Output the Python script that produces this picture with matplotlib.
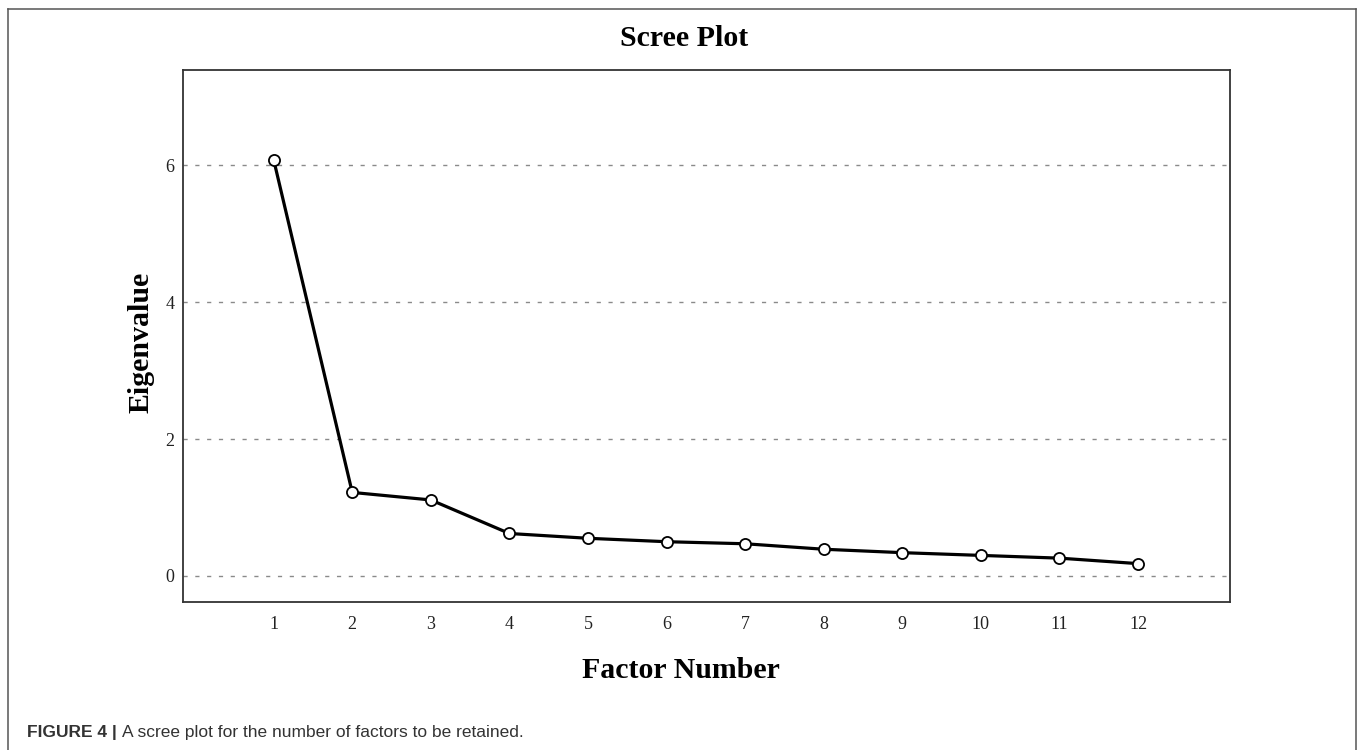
import matplotlib
matplotlib.use("Agg")
import matplotlib.pyplot as plt
from matplotlib.lines import Line2D

# scree plot data
factors = list(range(1, 13))
eigenvalues = [6.08, 1.22, 1.11, 0.62, 0.55, 0.50, 0.47, 0.39, 0.34, 0.30, 0.26, 0.18]
yticks = [0, 2, 4, 6]

W, H = 1358, 750
fig = plt.figure(figsize=(W / 100, H / 100), dpi=100)

# outer figure frame (left, top, right)
fx = lambda px: px / W
fy = lambda py: 1 - py / H
frame = dict(color="#555555", lw=1.1, transform=fig.transFigure)
fig.add_artist(Line2D([fx(8), fx(8)], [0, fy(8.5)], **frame))
fig.add_artist(Line2D([fx(8), fx(1356)], [fy(8.5), fy(8.5)], **frame))
fig.add_artist(Line2D([fx(1356), fx(1356)], [0, fy(8.5)], **frame))

ax = fig.add_axes([fx(182.5), fy(602.3), fx(1230) - fx(182.5), fy(70) - fy(602.3)])
serif = "Liberation Serif"

for y in yticks:
    ax.axhline(y, color="#8a8a8a", lw=1.0, dashes=(3.0, 5.5), zorder=1)

ax.plot(factors, eigenvalues, color="black", lw=2.3, marker="o", ms=8,
        mfc="white", mec="black", mew=1.3, zorder=3)

ax.set_xlim(-0.16, 13.17)
ax.set_ylim(-0.385, 7.39)
ax.set_xticks(factors)
ax.set_yticks(yticks)
ax.tick_params(length=0, labelsize=13, colors="#222222", pad=10)
for lab in ax.get_xticklabels() + ax.get_yticklabels():
    lab.set_fontfamily(serif)
ax.tick_params(axis="y", pad=6)
for s in ax.spines.values():
    s.set_color("#333333")
    s.set_linewidth(1.3)

fig.text(fx(684), fy(38), "Scree Plot", ha="center", va="center",
         fontsize=21.5, fontweight="bold", family=serif)
fig.text(fx(681), fy(671), "Factor Number", ha="center", va="center",
         fontsize=21.5, fontweight="bold", family=serif)
fig.text(fx(141), fy(342), "Eigenvalue", ha="center", va="center", rotation=90,
         fontsize=21.5, fontweight="bold", family=serif)

t = fig.text(fx(27), fy(732), "FIGURE 4 |", ha="left", va="center",
             fontsize=12.5, fontweight="bold", family="Liberation Sans", color="#333333")
fig.canvas.draw()
bb = t.get_window_extent()
fig.text((bb.x1 + 5) / W, fy(732), "A scree plot for the number of factors to be retained.",
         ha="left", va="center", fontsize=12.5, family="Liberation Sans", color="#333333")

fig.savefig("out.png", dpi=100)
